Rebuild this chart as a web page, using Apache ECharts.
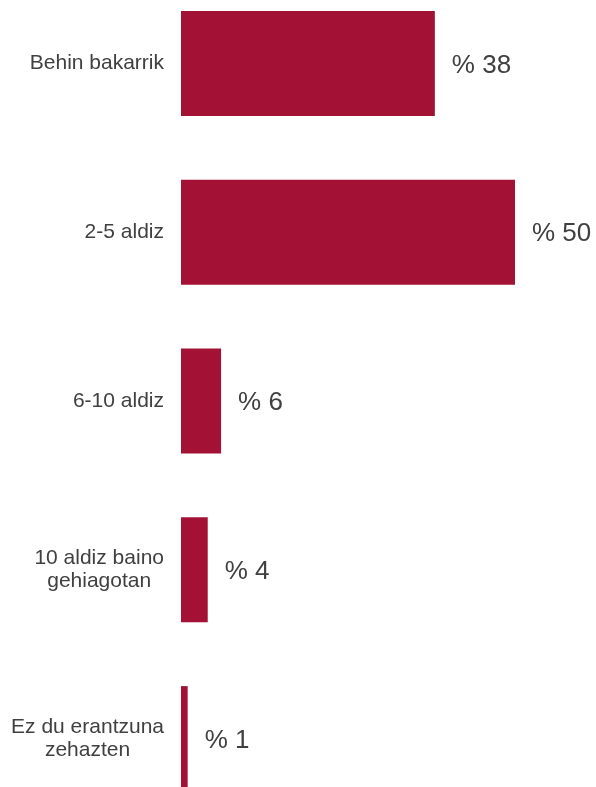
<!DOCTYPE html>
<html>
<head>
<meta charset="utf-8">
<script src="https://cdn.jsdelivr.net/npm/echarts@6/dist/echarts.min.js"></script>
<style>
  html, body { margin: 0; padding: 0; background: #ffffff; overflow: hidden; }
  #chart { position: absolute; left: 0; top: -21px; width: 596px; height: 844px; }
</style>
</head>
<body>
<div id="chart"></div>
<script>
// Answer categories (top to bottom) and their shares in percent
const categories = [
  'Behin bakarrik',
  '2-5 aldiz',
  '6-10 aldiz',
  '10 aldiz baino\ngehiagotan',
  'Ez du erantzuna\nzehazten'
];
const shares = [38, 50, 6, 4, 1];

const chart = echarts.init(document.getElementById('chart'), null, { renderer: 'canvas' });

chart.setOption({
  animation: false,
  backgroundColor: '#ffffff',
  grid: {
    left: 181,
    width: 334,
    top: 0,
    bottom: 0,
    containLabel: false
  },
  xAxis: {
    type: 'value',
    min: 0,
    max: 50,
    show: false
  },
  yAxis: {
    type: 'category',
    data: categories,
    inverse: true,
    axisLine: { show: false },
    axisTick: { show: false },
    splitLine: { show: false },
    axisLabel: {
      margin: 17,
      align: 'right',
      formatter: function (value) {
        // centre each line inside the label block
        return value.split('\n').map(function (l) { return '{c|' + l + '}'; }).join('\n');
      },
      rich: {
        c: {
          align: 'center',
          fontFamily: 'Liberation Sans, Arial, sans-serif',
          fontSize: 21,
          lineHeight: 23,
          color: '#404040'
        }
      }
    }
  },
  series: [{
    type: 'bar',
    data: shares,
    barWidth: 105,
    itemStyle: { color: '#A31235' },
    label: {
      show: true,
      position: 'right',
      distance: 17,
      offset: [0, 2],
      formatter: '% {c}',
      fontFamily: 'Liberation Sans, Arial, sans-serif',
      fontSize: 26,
      color: '#404040'
    }
  }]
});
</script>
</body>
</html>
